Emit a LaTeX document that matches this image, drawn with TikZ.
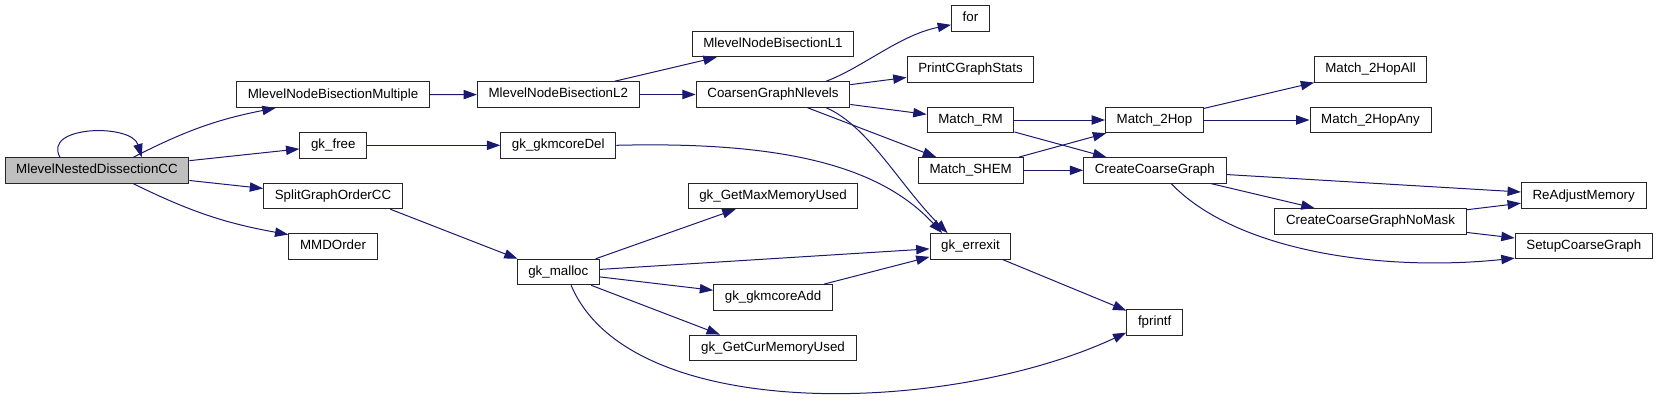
\documentclass[tikz,border=0pt]{standalone}
\usepackage{fontspec}
\setmainfont{Liberation Sans}
\usepackage{xcolor}
\usepackage{tikz}
\usetikzlibrary{arrows.meta,positioning,calc}
\definecolor{callblue}{HTML}{191970}
\definecolor{rootgray}{HTML}{BFBFBF}

\begin{document}
\begin{tikzpicture}[
    x=0.75pt, y=-0.75pt,
    fn/.style={rectangle, draw=black!85, line width=0.75pt, fill=white, inner xsep=8.4pt, inner ysep=0pt, minimum height=19.1pt, text height=7.3pt, text depth=2.1pt, font=\fontsize{10pt}{12pt}\selectfont},
    root/.style={fn, fill=rootgray},
    call/.style={-{Triangle[length=10pt, width=7pt]}, color=callblue, line width=0.75pt}
]
    \useasboundingbox (0,0) rectangle (1659,400);

    \node[root] (ndcc)    at (97,170.5)    {MlevelNestedDissectionCC};
    \node[fn]   (bmult)   at (333,94.7)    {MlevelNodeBisectionMultiple};
    \node[fn]   (gkfree)  at (333.3,145.3) {gk\_free};
    \node[fn]   (split)   at (333,196)     {SplitGraphOrderCC};
    \node[fn]   (mmd)     at (333,246.5)   {MMDOrder};
    \node[fn]   (bl2)     at (558.3,94.5)  {MlevelNodeBisectionL2};
    \node[fn]   (gkdel)   at (558.3,145.3) {gk\_gkmcoreDel};
    \node[fn]   (malloc)  at (558.3,272)   {gk\_malloc};
    \node[fn]   (bl1)     at (773,44)      {MlevelNodeBisectionL1};
    \node[fn]   (coarsen) at (773,94.5)    {CoarsenGraphNlevels};
    \node[fn]   (getmax)  at (773,196)     {gk\_GetMaxMemoryUsed};
    \node[fn]   (gkadd)   at (773,297.3)   {gk\_gkmcoreAdd};
    \node[fn]   (getcur)  at (773,347.8)   {gk\_GetCurMemoryUsed};
    \node[fn]   (for)     at (970.5,18.5)  {for};
    \node[fn]   (stats)   at (970.5,69.3)  {PrintCGraphStats};
    \node[fn]   (mrm)     at (970.5,120)   {Match\_RM};
    \node[fn]   (mshem)   at (970.7,170.3) {Match\_SHEM};
    \node[fn]   (errexit) at (970.5,246.3) {gk\_errexit};
    \node[fn]   (m2hop)   at (1154.5,120)  {Match\_2Hop};
    \node[fn]   (ccg)     at (1154.8,170.3) {CreateCoarseGraph};
    \node[fn]   (fprintf) at (1154.7,322.3) {fprintf};
    \node[fn]   (m2all)   at (1370.5,69.3) {Match\_2HopAll};
    \node[fn]   (m2any)   at (1370.5,120)  {Match\_2HopAny};
    \node[fn]   (nomask)  at (1370.5,221.3) {CreateCoarseGraphNoMask};
    \node[fn]   (readj)   at (1583.7,195.7) {ReAdjustMemory};
    \node[fn]   (setup)   at (1583.8,246)  {SetupCoarseGraph};

    \draw[call] ($(ndcc.north)+(-37,0)$) .. controls +(-18,-32) and +(-10,-34) .. ($(ndcc.north)+(44.7,0)$);
    \draw[call] (ndcc.20) to[bend left=8] (bmult.193);
    \draw[call] (ndcc) -- (gkfree);
    \draw[call] (ndcc) -- (split);
    \draw[call] (ndcc.-20) to[bend right=8] (mmd.165);
    \draw[call] (bmult) -- (bl2);
    \draw[call] (gkfree) -- (gkdel);
    \draw[call] (split.-13) -- (malloc.162);
    \draw[call] (bl2) -- (bl1);
    \draw[call] (bl2) -- (coarsen);
    \draw[call] (gkdel.east) .. controls +(165,-4) and +(-63,-68) .. (errexit.155);
    \draw[call] (malloc) -- (getmax);
    \draw[call] (malloc) -- (errexit);
    \draw[call] (malloc) -- (gkadd);
    \draw[call] (malloc.-22) -- (getcur.166);
    \draw[call] (malloc.-46) .. controls +(59,140) and +(-176,82) .. (fprintf.200);
    \draw[call] (coarsen.14) .. controls +(37,-14) and +(-51,10) .. (for.198);
    \draw[call] (coarsen) -- (stats);
    \draw[call] (coarsen) -- (mrm);
    \draw[call] (coarsen) -- (mshem);
    \draw[call] (coarsen.-14) .. controls +(42,18) and +(-48,-48) .. (errexit.150);
    \draw[call] (gkadd) -- (errexit);
    \draw[call] (errexit) -- (fprintf);
    \draw[call] (mrm) -- (m2hop);
    \draw[call] (mrm) -- (ccg);
    \draw[call] (mshem) -- (m2hop);
    \draw[call] (mshem) -- (ccg);
    \draw[call] (m2hop) -- (m2all);
    \draw[call] (m2hop) -- (m2any);
    \draw[call] (ccg) -- (readj);
    \draw[call] (ccg) -- (nomask);
    \draw[call] (ccg.-39) .. controls +(64,67) and +(-135,14) .. (setup.190);
    \draw[call] (nomask) -- (readj);
    \draw[call] (nomask) -- (setup);
\end{tikzpicture}
\end{document}
